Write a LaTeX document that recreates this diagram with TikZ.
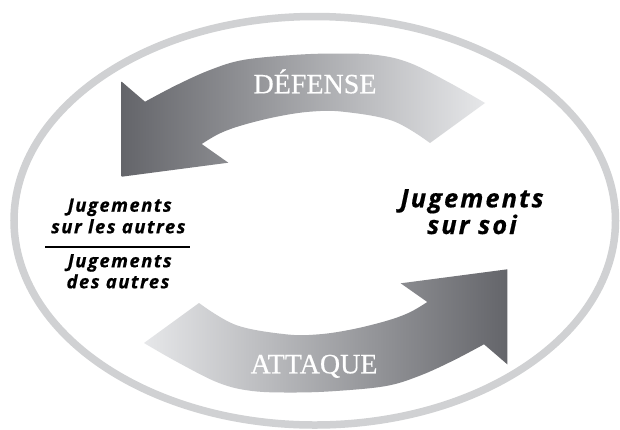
\documentclass[tikz,border=0pt]{standalone}
\usepackage{fontspec}
\setmainfont{Liberation Serif}
\newfontfamily\labelserif[FakeBold=0.5]{Liberation Serif}
\newfontfamily\labelsans[LetterSpace=8,FakeBold=0.6]{Open Sans}
\begin{document}
\begin{tikzpicture}[x=1pt,y=-1pt]
\definecolor{ringgray}{RGB}{208,209,211}
\definecolor{arrowdark}{RGB}{100,101,106}
\definecolor{arrowlight}{RGB}{230,231,233}
\tikzset{
  ring/.style={draw=ringgray,line width=7.5pt},
  arrowlabel/.style={text=white,font=\labelserif\fontsize{28}{30}\selectfont,anchor=base,inner sep=0pt},
  judgesmall/.style={font=\labelsans\bfseries\itshape\fontsize{18.5}{20}\selectfont,anchor=base,inner sep=0pt},
  judgebig/.style={font=\labelsans\bfseries\itshape\fontsize{25.5}{26}\selectfont,anchor=base,inner sep=0pt},
  fracrule/.style={draw=black,line width=2.2pt},
}
\fill[white] (0,0) rectangle (620,429);
\useasboundingbox (0,0) rectangle (620,429);
\draw[ring] (314.75,220.75) ellipse [x radius=300.75, y radius=204.25];
% DEFENSE arrow (points to lower left)
\shade[left color=arrowdark, right color=arrowlight]
  (121.7,81.7) -- plot[smooth,tension=0.6] coordinates {(145,101.7) (176.7,85) (210,70) (243,60) (293,55) (335,53.5) (376.7,55) (410,63) (450,83) (485,103)}
  -- plot[smooth,tension=0.6] coordinates {(430,143) (393,121) (343,111.7) (310,111.7) (276.7,116.7) (243,125) (220,133.3) (201.7,144)}
  -- (228.3,162.7) -- (121.7,176.7) -- cycle;
% ATTAQUE arrow (points to upper right)
\shade[left color=arrowlight, right color=arrowdark]
  (507.3,364.3) -- plot[smooth,tension=0.6] coordinates {(484,344.3) (452.3,361) (419,376) (386,386) (336,391) (294,392.5) (252.3,391) (219,383) (179,363) (144,343)}
  -- plot[smooth,tension=0.6] coordinates {(199,303) (236,325) (286,334.3) (319,334.3) (352.3,329.3) (386,321) (409,312.7) (427.3,302)}
  -- (400.7,283.3) -- (507.3,269.3) -- cycle;
\node[arrowlabel] (defense) at (315,93.3) {DÉFENSE};
\node[arrowlabel] (attack) at (314,373.3) {ATTAQUE};
% right text
\node[judgebig] (selfA) at (472,207.3) {Jugements};
\node[judgebig] (selfB) at (472,234) {sur soi};
% left text
\node[judgesmall] (onA) at (119.7,211.7) {Jugements};
\node[judgesmall] (onB) at (118.3,233.3) {sur les autres};
\coordinate (ruleL) at (45,246.7);
\coordinate (ruleR) at (190,246.7);
\draw[fracrule] (ruleL) -- (ruleR);
\node[judgesmall] (byA) at (119.7,267.3) {Jugements};
\node[judgesmall] (byB) at (118,288.3) {des autres};
\end{tikzpicture}
\end{document}
